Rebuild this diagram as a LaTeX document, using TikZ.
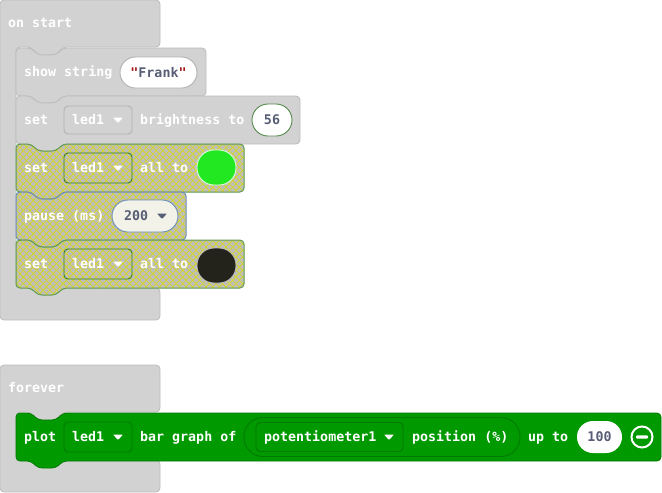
\documentclass[tikz,border=0pt]{standalone}
\usepackage{fontspec}
\setmonofont{DejaVu Sans Mono}
\usetikzlibrary{patterns.meta}

\definecolor{hatgrey}{HTML}{D2D2D2}
\definecolor{hatedge}{HTML}{BCBCBC}
\definecolor{ghostbase}{HTML}{BEBEBE}
\definecolor{ghostline}{HTML}{D6D62A}
\definecolor{ghostgreen}{HTML}{5E9A52}
\definecolor{ghostblue}{HTML}{6A8CB8}
\definecolor{ddedge}{HTML}{B2B2B2}
\definecolor{ddgreen}{HTML}{2F7D2F}
\definecolor{plotgreen}{HTML}{009900}
\definecolor{plotedge}{HTML}{007A00}
\definecolor{valtext}{HTML}{575E75}
\definecolor{quotered}{HTML}{A31515}
\definecolor{ledgreen}{HTML}{22E822}
\definecolor{ledblack}{HTML}{23221B}
\definecolor{pausefill}{HTML}{F2F2E8}

\tikzset{
  % statement block outline: left, top, right, bottom, with notch on top and tab below
  stmtshape/.style n args={4}{insert path={
    (#1,#2) -- (#1+15,#2) -- (#1+22,#2+7) -- (#1+40,#2+7) -- (#1+47,#2) -- (#3,#2)
    -- (#3,#4) -- (#1+47,#4) -- (#1+40,#4+7) -- (#1+22,#4+7) -- (#1+15,#4) -- (#1,#4) -- cycle}},
  % event block with a statement mouth: top, mouth top, mouth bottom, bottom
  hatshape/.style n args={4}{insert path={
    (0,#1) -- (160,#1) -- (160,#2) -- (63,#2) -- (56,#2+8) -- (38,#2+8) -- (31,#2) -- (16,#2)
    -- (16,#3) -- (160,#3) -- (160,#4) -- (0,#4) -- cycle}},
  hatblock/.style={fill=hatgrey, draw=hatedge, line width=0.8pt, rounded corners=4},
  plainblock/.style={fill=hatgrey, draw=hatedge, line width=0.8pt, rounded corners=4},
  ghostblock/.style={preaction={fill=ghostbase},
    preaction={pattern={Lines[angle=45,distance=4.7pt,line width=0.8pt]}, pattern color=ghostline},
    pattern={Lines[angle=-45,distance=4.7pt,line width=0.8pt]}, pattern color=ghostline,
    draw=#1, line width=1pt, rounded corners=4},
  greenblock/.style={fill=plotgreen, draw=plotedge, line width=0.8pt, rounded corners=4},
  label/.style={anchor=base west, inner sep=0pt, text=white,
    font=\ttfamily\bfseries\fontsize{13.3}{16}\selectfont},
  value/.style={anchor=base, inner sep=0pt, text=valtext,
    font=\ttfamily\bfseries\fontsize{13.3}{16}\selectfont},
  ddbox/.style={draw=#1, line width=0.9pt, rounded corners=4},
}

% dropdown triangle centred on (x,y)
\newcommand\ddtri[3]{\fill[#3, rounded corners=0.8] (#1-5,#2-2.5) -- (#1+5,#2-2.5) -- (#1,#2+3) -- cycle;}

\begin{document}
\begin{tikzpicture}[x=1pt,y=-1pt]
\useasboundingbox (0,0) rectangle (662,493);

% ---------------- on start ----------------
\path[hatblock, hatshape={0}{47}{288}{320}];
\node[label] (onstart) at (8,27.5) {on start};

% show string
\path[plainblock, stmtshape={16}{48}{206}{96}];
\node[label] (show) at (24,76.5) {show string};
\draw[fill=white, draw=ddedge, line width=0.9pt, rounded corners=15.5] (120,57) rectangle (197,88);
\node[value] (frank) at (158.5,77) {\textcolor{quotered}{"}Frank\textcolor{quotered}{"}};

% set brightness
\path[plainblock, stmtshape={16}{96}{300}{144}];
\node[label] (setb) at (24,124.5) {set};
\draw[ddbox=ddedge] (64,106) rectangle (132,134);
\node[label] (ledb) at (72,124.5) {led1};
\ddtri{118}{120}{white}
\node[label] (bright) at (140,124.5) {brightness to};
\draw[fill=white, draw=ghostgreen!90!black, line width=0.9pt, rounded corners=16] (252,104) rectangle (292,136);
\node[value] (v56) at (272,124.5) {56};

% set all to green
\path[ghostblock=ghostgreen, stmtshape={16}{144}{244}{192}];
\node[label] (seta) at (24,172.5) {set};
\draw[ddbox=ddgreen] (64,153) rectangle (132,183);
\node[label] (leda) at (72,172.5) {led1};
\ddtri{118}{168}{white}
\node[label] (alla) at (140,172.5) {all to};
\draw[fill=ledgreen, draw=white!85!ledgreen, line width=0.9pt, rounded corners=17] (197,150) rectangle (236,185);

% pause
\path[ghostblock=ghostblue, stmtshape={16}{192}{186}{240}];
\node[label] (pause) at (24,220.5) {pause (ms)};
\draw[fill=pausefill, draw=ghostblue, line width=0.9pt, rounded corners=16] (112,200) rectangle (178,232);
\node[value, anchor=base west] (v200) at (124,220.5) {200};
\ddtri{162}{216}{valtext}

% set all to black
\path[ghostblock=ghostgreen, stmtshape={16}{240}{244}{288}];
\node[label] (setc) at (24,268.5) {set};
\draw[ddbox=ddgreen] (64,249) rectangle (132,279);
\node[label] (ledc) at (72,268.5) {led1};
\ddtri{118}{264}{white}
\node[label] (allc) at (140,268.5) {all to};
\draw[fill=ledblack, draw=white!70!ledblack, line width=0.9pt, rounded corners=17] (197,248) rectangle (236,283);

% ---------------- forever ----------------
\path[hatblock, hatshape={365}{412}{460}{492}];
\node[label] (forever) at (8,392.5) {forever};

% plot bar graph
\path[greenblock, stmtshape={16}{413}{661}{461}];
\node[label] (plot) at (24,441.5) {plot};
\draw[ddbox=plotedge] (64,422) rectangle (132,452);
\node[label] (ledp) at (72,441.5) {led1};
\ddtri{118}{437}{white}
\node[label] (bar) at (140,441.5) {bar graph of};
\draw[draw=plotedge, line width=0.9pt, rounded corners=19] (244,417.5) rectangle (520,456.5);
\draw[ddbox=plotedge] (256,422.5) rectangle (403,451.5);
\node[label] (pot) at (264,441.5) {potentiometer1};
\ddtri{389}{437}{white}
\node[label] (pos) at (412,441.5) {position (\%)};
\node[label] (upto) at (528,441.5) {up to};
\draw[fill=white, draw=none, rounded corners=16] (577,421) rectangle (622,453);
\node[value] (v100) at (599.5,441.5) {100};
\draw[white, line width=2pt] (642,437) circle (10.5);
\fill[white, rounded corners=1] (636,435.3) rectangle (648,438.7);
\end{tikzpicture}
\end{document}
